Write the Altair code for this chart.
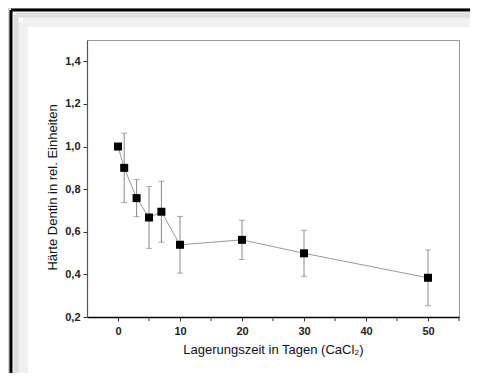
import altair as alt
import pandas as pd

days = [0, 1, 3, 5, 7, 10, 20, 30, 50]
haerte = [1.0, 0.90, 0.758, 0.667, 0.694, 0.539, 0.562, 0.499, 0.384]
fehler = [0.0, 0.163, 0.087, 0.145, 0.143, 0.133, 0.092, 0.108, 0.131]

x_major = [0, 10, 20, 30, 40, 50]
x_minor = [5, 15, 25, 35, 45, 55]
y_ticks = [0.2, 0.3, 0.4, 0.5, 0.6, 0.7, 0.8, 0.9, 1.0, 1.1, 1.2, 1.3, 1.4]

df = pd.DataFrame({"tage": days, "h": haerte, "e": fehler})
df["lo"] = df["h"] - df["e"]
df["hi"] = df["h"] + df["e"]
df_err = df[df["e"] > 0]
df_minor = pd.DataFrame({"t": x_minor})

FONT = "Liberation Sans"
W, H = 372, 277

xs = alt.Scale(domain=[-5, 55], nice=False, zero=False)
ys = alt.Scale(domain=[0.2, 1.5], nice=False, zero=False)

x_axis = alt.Axis(
    values=x_major, format="d",
    labelOverlap=False, labelFlush=False,
    title="Lagerungszeit in Tagen (CaCl₂)",
    grid=False, domainColor="#000", domainWidth=1.5, tickColor="#333", tickSize=4,
    labelFont=FONT, labelFontSize=11, labelFontWeight="bold", labelColor="#222", labelPadding=4,
    titleFont=FONT, titleFontSize=13, titleFontWeight="normal", titleColor="#111", titlePadding=7,
)
y_axis = alt.Axis(
    values=y_ticks,
    labelExpr="(round(datum.value*10) % 2 == 0) ? replace(format(datum.value, '.1f'), '.', ',') : ''",
    labelOverlap=False, labelFlush=False,
    title="Härte Dentin in rel. Einheiten",
    titleX=-31, titleY=147, titleBaseline="alphabetic", titleAngle=270,
    grid=False, domainColor="#555", domainWidth=1.2, tickColor="#333", tickSize=4,
    labelFont=FONT, labelFontSize=11, labelFontWeight="bold", labelColor="#222", labelPadding=3,
    titleFont=FONT, titleFontSize=13, titleFontWeight="normal", titleColor="#111",
)

base = alt.Chart(df)
frame_data = pd.DataFrame({"k": [0]})


def corner(offset, color, width):
    top = alt.Chart(frame_data).mark_rule(color=color, strokeWidth=width).encode(
        x=alt.value(offset[0]), x2=alt.value(700), y=alt.value(offset[1]))
    left = alt.Chart(frame_data).mark_rule(color=color, strokeWidth=width).encode(
        x=alt.value(offset[0]), y=alt.value(offset[1]), y2=alt.value(700))
    return [top, left]


frame_layers = (
    corner((-64, -18), "#f0f0f0", 10)
    + corner((-71, -25), "#dedede", 5)
    + corner((-78, -32), "#aaa", 1)
    + corner((-76, -30), "#000", 3)
)

line = base.mark_line(color="#999", strokeWidth=1).encode(
    x=alt.X("tage:Q", scale=xs, axis=x_axis),
    y=alt.Y("h:Q", scale=ys, axis=y_axis),
)
minor = alt.Chart(df_minor).mark_rule(color="#333", strokeWidth=1).encode(
    x=alt.X("t:Q", scale=xs), y=alt.value(H), y2=alt.value(H + 4))
bars = alt.Chart(df_err).mark_rule(color="#888", strokeWidth=1).encode(
    x=alt.X("tage:Q", scale=xs), y=alt.Y("lo:Q", scale=ys), y2="hi:Q")
cap_lo = alt.Chart(df_err).mark_tick(color="#888", thickness=1, size=6, orient="horizontal").encode(
    x=alt.X("tage:Q", scale=xs), y=alt.Y("lo:Q", scale=ys))
cap_hi = alt.Chart(df_err).mark_tick(color="#888", thickness=1, size=6, orient="horizontal").encode(
    x=alt.X("tage:Q", scale=xs), y=alt.Y("hi:Q", scale=ys))
pts = base.mark_square(color="#000", size=64, opacity=1).encode(
    x=alt.X("tage:Q", scale=xs), y=alt.Y("h:Q", scale=ys))

chart = alt.layer(*frame_layers, line, minor, bars, cap_lo, cap_hi, pts).properties(
    width=W, height=H,
    autosize=alt.AutoSizeParams(type="none"),
    padding={"left": 79, "top": 32, "right": 11, "bottom": 56},
    background="white",
).configure_view(stroke="#999", strokeWidth=1)

chart.save("out.html", embed_options={"renderer": "svg", "actions": False})
